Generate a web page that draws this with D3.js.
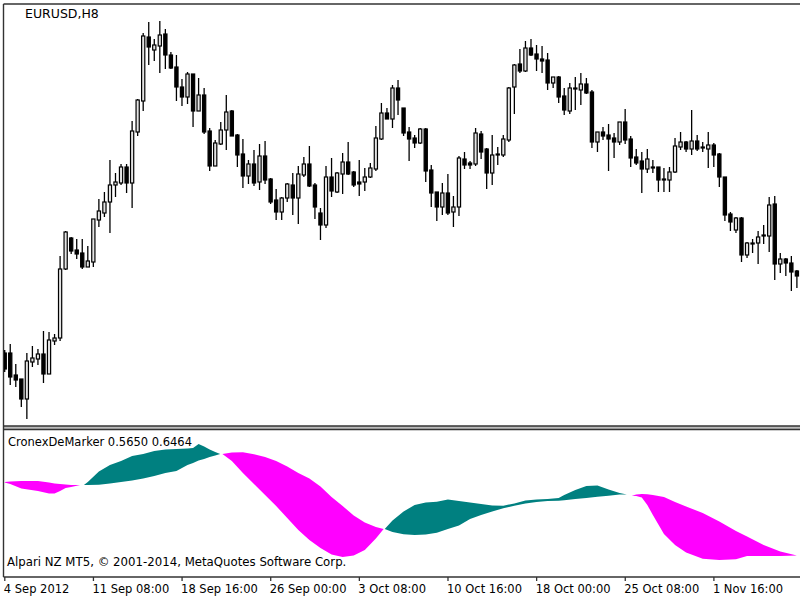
<!DOCTYPE html>
<html>
<head>
<meta charset="utf-8">
<title>EURUSD,H8</title>
<script src="https://cdn.jsdelivr.net/npm/d3@7/dist/d3.min.js"></script>
<style>
	html, body { margin: 0; padding: 0; background: #fff; }
	svg { display: block; }
	text { font-family: "DejaVu Sans", sans-serif; font-size: 11.5px; fill: #000; }
</style>
</head>
<body>
<div id="chart"></div>
<script>
// quotes of the H8 bars, one entry per bar (the picture has no price axis, so the level is estimated)
var opens = [1.2646,1.2646,1.2602,1.2594,1.2554,1.2628,1.2634,1.2644,1.2604,1.2670,1.2676,1.2814,1.2876,1.2852,1.2846,1.2818,1.2828,1.2912,1.2926,1.2948,1.2982,1.2986,1.3018,1.2986,1.3088,1.3150,
	1.3278,1.3252,1.3260,1.3284,1.3242,1.3218,1.3178,1.3158,1.3204,1.3130,1.3162,1.3090,1.3020,1.3064,1.3092,1.3130,1.3082,1.3044,1.3000,1.3024,1.2988,1.3040,
	1.2994,1.2952,1.2928,1.2956,1.2982,1.2956,1.3002,1.3024,1.2982,1.2926,1.2902,1.2998,1.2968,1.3004,1.3028,1.3008,1.2988,1.2988,1.2998,1.3014,1.3074,1.3126,1.3114,1.3176,
	1.3136,1.3088,1.3076,1.3066,1.3094,1.3012,1.2968,1.2938,1.2966,1.2928,1.2938,1.3034,1.3026,1.3024,1.3084,1.3054,1.3006,1.3042,1.3042,1.3072,1.3178,1.3224,1.3210,1.3256,
	1.3244,1.3234,1.3232,1.3186,1.3198,1.3160,1.3130,1.3176,1.3172,1.3184,1.3168,1.3068,1.3088,1.3082,1.3076,1.3068,1.3108,1.3074,1.3038,1.3030,1.3014,1.3016,1.3018,1.2994,
	1.2992,1.3008,1.3058,1.3068,1.3054,1.3070,1.3058,1.3054,1.3062,1.3044,1.2998,1.2924,1.2892,1.2916,1.2842,1.2864,1.2866,1.2882,1.2880,1.2944,1.2824,1.2834,1.2826,1.2810];
var closes = [1.2614,1.2598,1.2592,1.2554,1.2630,1.2636,1.2644,1.2604,1.2672,1.2676,1.2814,1.2888,1.2850,1.2844,1.2818,1.2830,1.2914,1.2930,1.2948,1.2982,1.2988,1.3018,1.2986,1.3090,1.3152,1.3280,
	1.3258,1.3262,1.3282,1.3242,1.3216,1.3178,1.3158,1.3204,1.3130,1.3162,1.3088,1.3020,1.3066,1.3092,1.3128,1.3080,1.3042,1.3000,1.3024,1.2986,1.3040,1.2992,
	1.2948,1.2928,1.2956,1.2984,1.2956,1.3004,1.3024,1.2980,1.2938,1.2902,1.2998,1.2970,1.3006,1.3028,1.3004,1.2982,1.2984,1.2998,1.3016,1.3076,1.3126,1.3114,1.3176,1.3152,
	1.3086,1.3074,1.3066,1.3094,1.3010,1.2966,1.2938,1.2966,1.2926,1.2938,1.3036,1.3022,1.3022,1.3086,1.3048,1.3006,1.3042,1.3044,1.3074,1.3176,1.3222,1.3210,1.3256,1.3242,
	1.3234,1.3230,1.3186,1.3198,1.3158,1.3132,1.3176,1.3174,1.3184,1.3166,1.3068,1.3088,1.3080,1.3074,1.3068,1.3108,1.3072,1.3036,1.3026,1.3014,1.3034,1.3018,1.2992,1.2992,
	1.3008,1.3060,1.3068,1.3054,1.3070,1.3054,1.3056,1.3062,1.3042,1.2998,1.2922,1.2908,1.2916,1.2842,1.2866,1.2866,1.2878,1.2880,1.2942,1.2824,1.2834,1.2826,1.2808,1.2800];
var highs = [1.2652,1.2664,1.2624,1.2594,1.2646,1.2660,1.2654,1.2690,1.2688,1.2684,1.2840,1.2890,1.2878,1.2874,1.2874,1.2860,1.2914,1.2954,1.2968,1.3032,1.3006,1.3024,1.3024,1.3110,1.3154,1.3286,
	1.3308,1.3274,1.3310,1.3294,1.3248,1.3242,1.3194,1.3208,1.3204,1.3196,1.3176,1.3096,1.3072,1.3108,1.3162,1.3132,1.3084,1.3074,1.3032,1.3052,1.3064,1.3070,
	1.2996,1.2974,1.2958,1.2986,1.3006,1.3020,1.3038,1.3060,1.2986,1.2936,1.3020,1.3036,1.3008,1.3046,1.3068,1.3010,1.3032,1.3016,1.3026,1.3100,1.3146,1.3136,1.3182,1.3192,
	1.3136,1.3098,1.3082,1.3096,1.3096,1.3022,1.2968,1.2986,1.3004,1.2960,1.3040,1.3048,1.3030,1.3096,1.3090,1.3056,1.3082,1.3058,1.3082,1.3178,1.3224,1.3254,1.3270,1.3274,
	1.3262,1.3260,1.3246,1.3198,1.3200,1.3176,1.3186,1.3198,1.3206,1.3196,1.3172,1.3088,1.3098,1.3104,1.3086,1.3108,1.3134,1.3080,1.3054,1.3048,1.3054,1.3032,1.3018,1.3016,
	1.3018,1.3076,1.3088,1.3070,1.3132,1.3082,1.3068,1.3088,1.3066,1.3046,1.2998,1.2928,1.2918,1.2918,1.2868,1.2874,1.2890,1.2902,1.2958,1.2960,1.2846,1.2836,1.2840,1.2812];
var lows = [1.2608,1.2582,1.2578,1.2538,1.2514,1.2618,1.2622,1.2586,1.2604,1.2662,1.2670,1.2812,1.2844,1.2834,1.2814,1.2818,1.2818,1.2898,1.2918,1.2886,1.2958,1.2982,1.2966,1.2936,1.3080,1.3130,
	1.3222,1.3230,1.3206,1.3214,1.3214,1.3150,1.3140,1.3144,1.3098,1.3130,1.3084,1.3010,1.3020,1.3062,1.3052,1.3080,1.3018,1.2976,1.2984,1.2980,1.2972,1.2984,
	1.2944,1.2912,1.2912,1.2948,1.2922,1.2904,1.2998,1.2978,1.2914,1.2872,1.2896,1.2958,1.2966,1.2964,1.3002,1.2978,1.2960,1.2970,1.2996,1.3010,1.3072,1.3114,1.3096,1.3122,
	1.3080,1.3030,1.3056,1.3064,1.2988,1.2938,1.2910,1.2922,1.2922,1.2898,1.2920,1.3014,1.3014,1.3020,1.3034,1.2974,1.2982,1.3022,1.3038,1.3068,1.3124,1.3206,1.3208,1.3240,
	1.3210,1.3206,1.3172,1.3176,1.3146,1.3122,1.3124,1.3132,1.3142,1.3164,1.3056,1.3048,1.3072,1.3010,1.3036,1.3062,1.3064,1.3018,1.3022,1.2966,1.3006,1.3006,1.2968,1.2968,
	1.2968,1.3006,1.3052,1.3048,1.3042,1.3050,1.3048,1.3016,1.3018,1.2978,1.2910,1.2890,1.2886,1.2828,1.2836,1.2846,1.2824,1.2864,1.2848,1.2792,1.2806,1.2800,1.2770,1.2776];

// CronexDeMarker lines, read at these bars. Equal values close a filled band.
var indicatorBars = [0,1,3,6,8,9,10,11,12,13.6,
	14.3,15,17,19,21,23,25,27,29,31,33,34,35,36,37,38,38.9,
	39.3,41,43,45,47,49,51,53,55,57,59,61,63,65,67,68.4,
	68.6,70,72,74,76,78,80,82,84,86,88,90,92,94,96,98,100,101,103,105,107,109,111,112.3,
	113.2,114,115,116,117,118,119,121,123,126,129,132,134,137,140,143];
var fastLine = [.5875,.58,.5575,.545,.5325,.5325,.545,.56,.565,.575,
	.575,.59,.6425,.675,.695,.72,.73,.745,.7525,.755,.7575,.76,.78,.7675,.7525,.74,.73,
	.73,.695,.635,.58,.525,.47,.41,.35,.30,.26,.2275,.215,.2225,.25,.3075,.355,
	.355,.3975,.4425,.475,.4875,.4915,.5025,.495,.4875,.48,.4725,.4715,.4825,.4975,.5025,.505,.51,.525,.55,.57,.5725,.5525,.535,.5275,
	.5215,.52,.5125,.475,.425,.3775,.33,.275,.2375,.206,.20,.2035,.22,.22,.22,.2225];
var slowLine = [.59,.5925,.595,.595,.5875,.5825,.58,.5775,.575,.575,
	.575,.575,.576,.5825,.59,.5975,.6075,.62,.635,.645,.675,.685,.6975,.705,.715,.7225,.73,
	.73,.7375,.7385,.7285,.715,.695,.6675,.635,.6075,.5675,.515,.47,.4225,.3875,.365,.355,
	.355,.34,.3285,.325,.3275,.3365,.355,.3725,.405,.425,.4425,.4585,.4715,.4825,.49,.495,.4965,.4985,.505,.51,.5165,.5215,.5275,.5275,
	.5215,.5275,.53,.5285,.525,.52,.515,.49,.4675,.435,.3925,.345,.3175,.275,.2425,.2225];

var timeTickBars = [0,16,32,48,64,80,96,112,128];
var timeTickLabels = ["4 Sep 2012","11 Sep 08:00","18 Sep 16:00","26 Sep 00:00","3 Oct 08:00","10 Oct 16:00","18 Oct 00:00","25 Oct 08:00","1 Nov 16:00"];

var width = 800,
	height = 600,
	frameColor = "#333",
	riseColor = "#008080",
	fallColor = "#ff00ff";

var svg = d3.select("#chart").append("svg")
	.attr("width", width)
	.attr("height", height);

var x = d3.scaleLinear().domain([0, 143]).range([4.7, 796.9]);
var yPrice = d3.scaleLinear().domain([1.25, 1.3344]).range([426, 4]);
var yIndicator = d3.scaleLinear().domain([0.12, 0.84]).range([576, 432]);

function drawFrame() {
	var lines = [
		[3.5, 4, 800, 4], [3.5, 4, 3.5, 577], [3.5, 426, 800, 426],
		[3.5, 429.5, 800, 429.5], [3.5, 577, 800, 577]
	];
	svg.append("rect")
		.attr("x", 3.5).attr("y", 426)
		.attr("width", 796.5).attr("height", 3.5)
		.attr("fill", "#bbb");
	svg.selectAll(".frame")
		.data(lines)
		.enter()
		.append("line")
		.attr("class", "frame")
		.attr("x1", function (d) { return d[0]; })
		.attr("y1", function (d) { return d[1]; })
		.attr("x2", function (d) { return d[2]; })
		.attr("y2", function (d) { return d[3]; })
		.attr("stroke", frameColor)
		.attr("stroke-width", 1.4);
}

function drawCandles() {
	// the first bar is cut by the left edge of the window
	svg.append("clipPath")
		.attr("id", "priceWindow")
		.append("rect")
		.attr("x", 4).attr("y", 4)
		.attr("width", 796).attr("height", 422);
	var bars = svg.append("g")
		.attr("clip-path", "url(#priceWindow)")
		.selectAll("g")
		.data(d3.range(opens.length))
		.enter()
		.append("g");
	// wick first, the body sits on top of it
	bars.append("line")
		.attr("x1", function (i) { return x(i); })
		.attr("x2", function (i) { return x(i); })
		.attr("y1", function (i) { return yPrice(highs[i]); })
		.attr("y2", function (i) { return yPrice(lows[i]); })
		.attr("stroke", "#000")
		.attr("stroke-width", 1.3);
	bars.append("rect")
		.attr("x", function (i) { return x(i) - 1.6; })
		.attr("width", 3.2)
		.attr("y", function (i) { return yPrice(Math.max(opens[i], closes[i])); })
		.attr("height", function (i) { return Math.abs(yPrice(opens[i]) - yPrice(closes[i])); })
		.attr("fill", function (i) { return closes[i] >= opens[i] ? "#e4e4e4" : "#000"; })
		.attr("stroke", "#000")
		.attr("stroke-width", 1.2);
}

function splitBands() {
	var bands = [], current = [];
	indicatorBars.forEach(function (bar, i) {
		current.push(i);
		if (current.length > 1 && fastLine[i] === slowLine[i]) {
			bands.push(current);
			current = [];
		}
	});
	return bands;
}

function drawIndicator() {
	var area = d3.area()
		.x(function (i) { return x(indicatorBars[i]); })
		.y0(function (i) { return yIndicator(slowLine[i]); })
		.y1(function (i) { return yIndicator(fastLine[i]); });
	svg.append("g").selectAll("path")
		.data(splitBands())
		.enter()
		.append("path")
		.attr("d", area)
		.attr("fill", function (band) {
			var middle = band[Math.floor(band.length / 2)];
			return fastLine[middle] > slowLine[middle] ? riseColor : fallColor;
		});
}

function drawTimeAxis() {
	var axis = d3.axisBottom(x)
		.tickValues(timeTickBars)
		.tickFormat(function (d, i) { return timeTickLabels[i]; })
		.tickSizeOuter(0)
		.tickSizeInner(4)
		.tickPadding(4);
	var g = svg.append("g")
		.attr("transform", "translate(-0.4,577)")
		.call(axis);
	g.select(".domain").remove();
	g.selectAll(".tick line").attr("stroke", frameColor).attr("stroke-width", 1.3);
	g.selectAll(".tick text")
		.attr("text-anchor", "start")
		.attr("dx", -1)
		.style("font-family", "\"DejaVu Sans\", sans-serif")
		.style("font-size", "11.5px");
}

function addLabel(text, left, baseline, size) {
	svg.append("text")
		.attr("x", left)
		.attr("y", baseline)
		.style("font-size", size + "px")
		.text(text);
}

drawFrame();
drawCandles();
drawIndicator();
drawTimeAxis();
addLabel("EURUSD,H8", 25, 18, 12.5);
addLabel("CronexDeMarker 0.5650 0.6464", 8, 446, 11.5);
addLabel("Alpari NZ MT5, \u00a9 2001-2014, MetaQuotes Software Corp.", 7, 566, 11.75);
</script>
</body>
</html>
